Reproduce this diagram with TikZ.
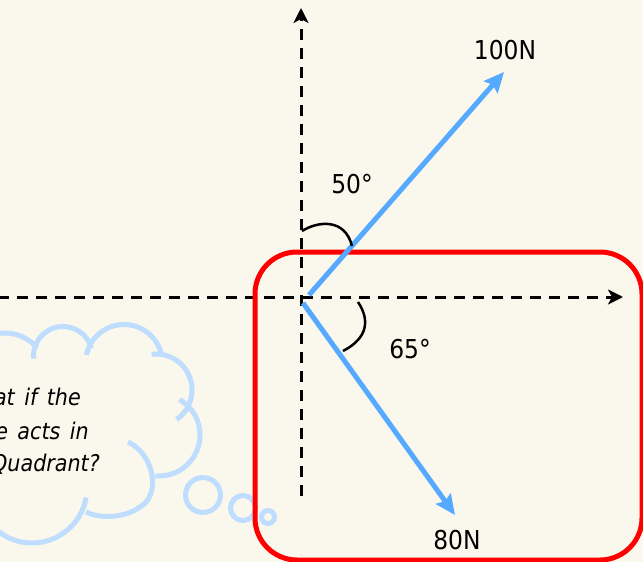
\documentclass[tikz,border=0pt]{standalone}
\usepackage{fontspec}
\IfFontExistsTF{DejaVu Sans Condensed}{\setmainfont{DejaVu Sans Condensed}}{\setmainfont{DejaVu Sans}[FakeStretch=0.9]}
\usetikzlibrary{arrows.meta}
\definecolor{bgc}{RGB}{250,247,236}
\definecolor{vecblue}{RGB}{85,170,255}
\definecolor{cloudblue}{RGB}{190,221,255}
\newcommand\cloudtextfont{\fontsize{23}{33}\selectfont\itshape\spaceskip 9.5pt\relax}
\tikzset{
  axisline/.style={line width=3pt, dash pattern=on 11pt off 8pt, -{Stealth[length=15pt,width=15pt,inset=4pt]}},
  vec/.style={line width=5pt, vecblue, -{Stealth[length=20pt,width=18pt,inset=3pt]}},
  anglemark/.style={line width=2.5pt, black},
  puff/.style={line width=5pt, cloudblue},
  lbl/.style={font=\fontsize{26}{31}\selectfont, inner sep=0pt},
  cloudtxt/.style={font=\cloudtextfont, inner sep=0pt, anchor=base east},
  frame/.style={line width=5pt, red, rounded corners=42pt}
}
\newcommand\puffarc[5]{\draw[puff] (#1,-#2) ++(#4:#3pt) arc[start angle=#4,end angle=#5,radius=#3pt];}
\begin{document}
\begin{tikzpicture}[x=1pt,y=1pt]
  \fill[bgc] (0,0) rectangle (643,-562);
  \useasboundingbox (0,0) rectangle (643,-562);
  \begin{scope}
    \clip (0,0) rectangle (643,-562);
    % axes
    \coordinate (xs) at (-2,-297);
    \coordinate (xe) at (623,-297);
    \coordinate (ys) at (301,-496);
    \coordinate (ye) at (301,-8);
    \draw[axisline] (xs) -- (xe);
    \draw[axisline] (ys) -- (ye);
    % thought cloud
    \puffarc{5}{375}{42}{175}{40}
    \puffarc{63}{356}{29.5}{185}{15}
    \puffarc{124}{363}{38.5}{168}{10}
    \puffarc{156}{390}{36}{97}{-55}
    \puffarc{159}{435}{41}{60}{-95}
    \draw[puff] (128,-442) .. controls (155,-455) and (161,-495) .. (140,-507)
                .. controls (125,-518) and (100,-519) .. (86,-512);
    \puffarc{32}{488}{55}{-10}{-140}
    \draw[puff] (203,-495) circle[radius=17.5pt];
    \draw[puff] (243,-508) circle[radius=12.5pt];
    \draw[puff] (268,-517) circle[radius=6.5pt];
    \node[cloudtxt] (q1) at (81,-405) {What if the};
    \node[cloudtxt] (q2) at (89,-439) {force acts in};
    \node[cloudtxt] (q3) at (100,-471) {4th Quadrant?};
    % red frame
    \draw[frame] (255,-252) rectangle (642,-560);
    % vectors
    \coordinate (o1) at (309,-295);
    \coordinate (f1) at (504,-72);
    \coordinate (o2) at (303,-303);
    \coordinate (f2) at (455,-515);
    \draw[vec] (o1) -- (f1);
    \draw[vec] (o2) -- (f2);
    % angle marks
    \draw[anglemark] (302,-231) .. controls (318,-221) and (345,-218) .. (352,-246);
    \draw[anglemark] (358,-302) .. controls (370,-320) and (368,-338) .. (343,-351);
    % labels
    \node[lbl] (l100) at (505,-50) {100N};
    \node[lbl] (l50) at (352,-184) {50°};
    \node[lbl] (l65) at (410,-349) {65°};
    \node[lbl] (l80) at (457,-540) {80N};
  \end{scope}
\end{tikzpicture}
\end{document}
